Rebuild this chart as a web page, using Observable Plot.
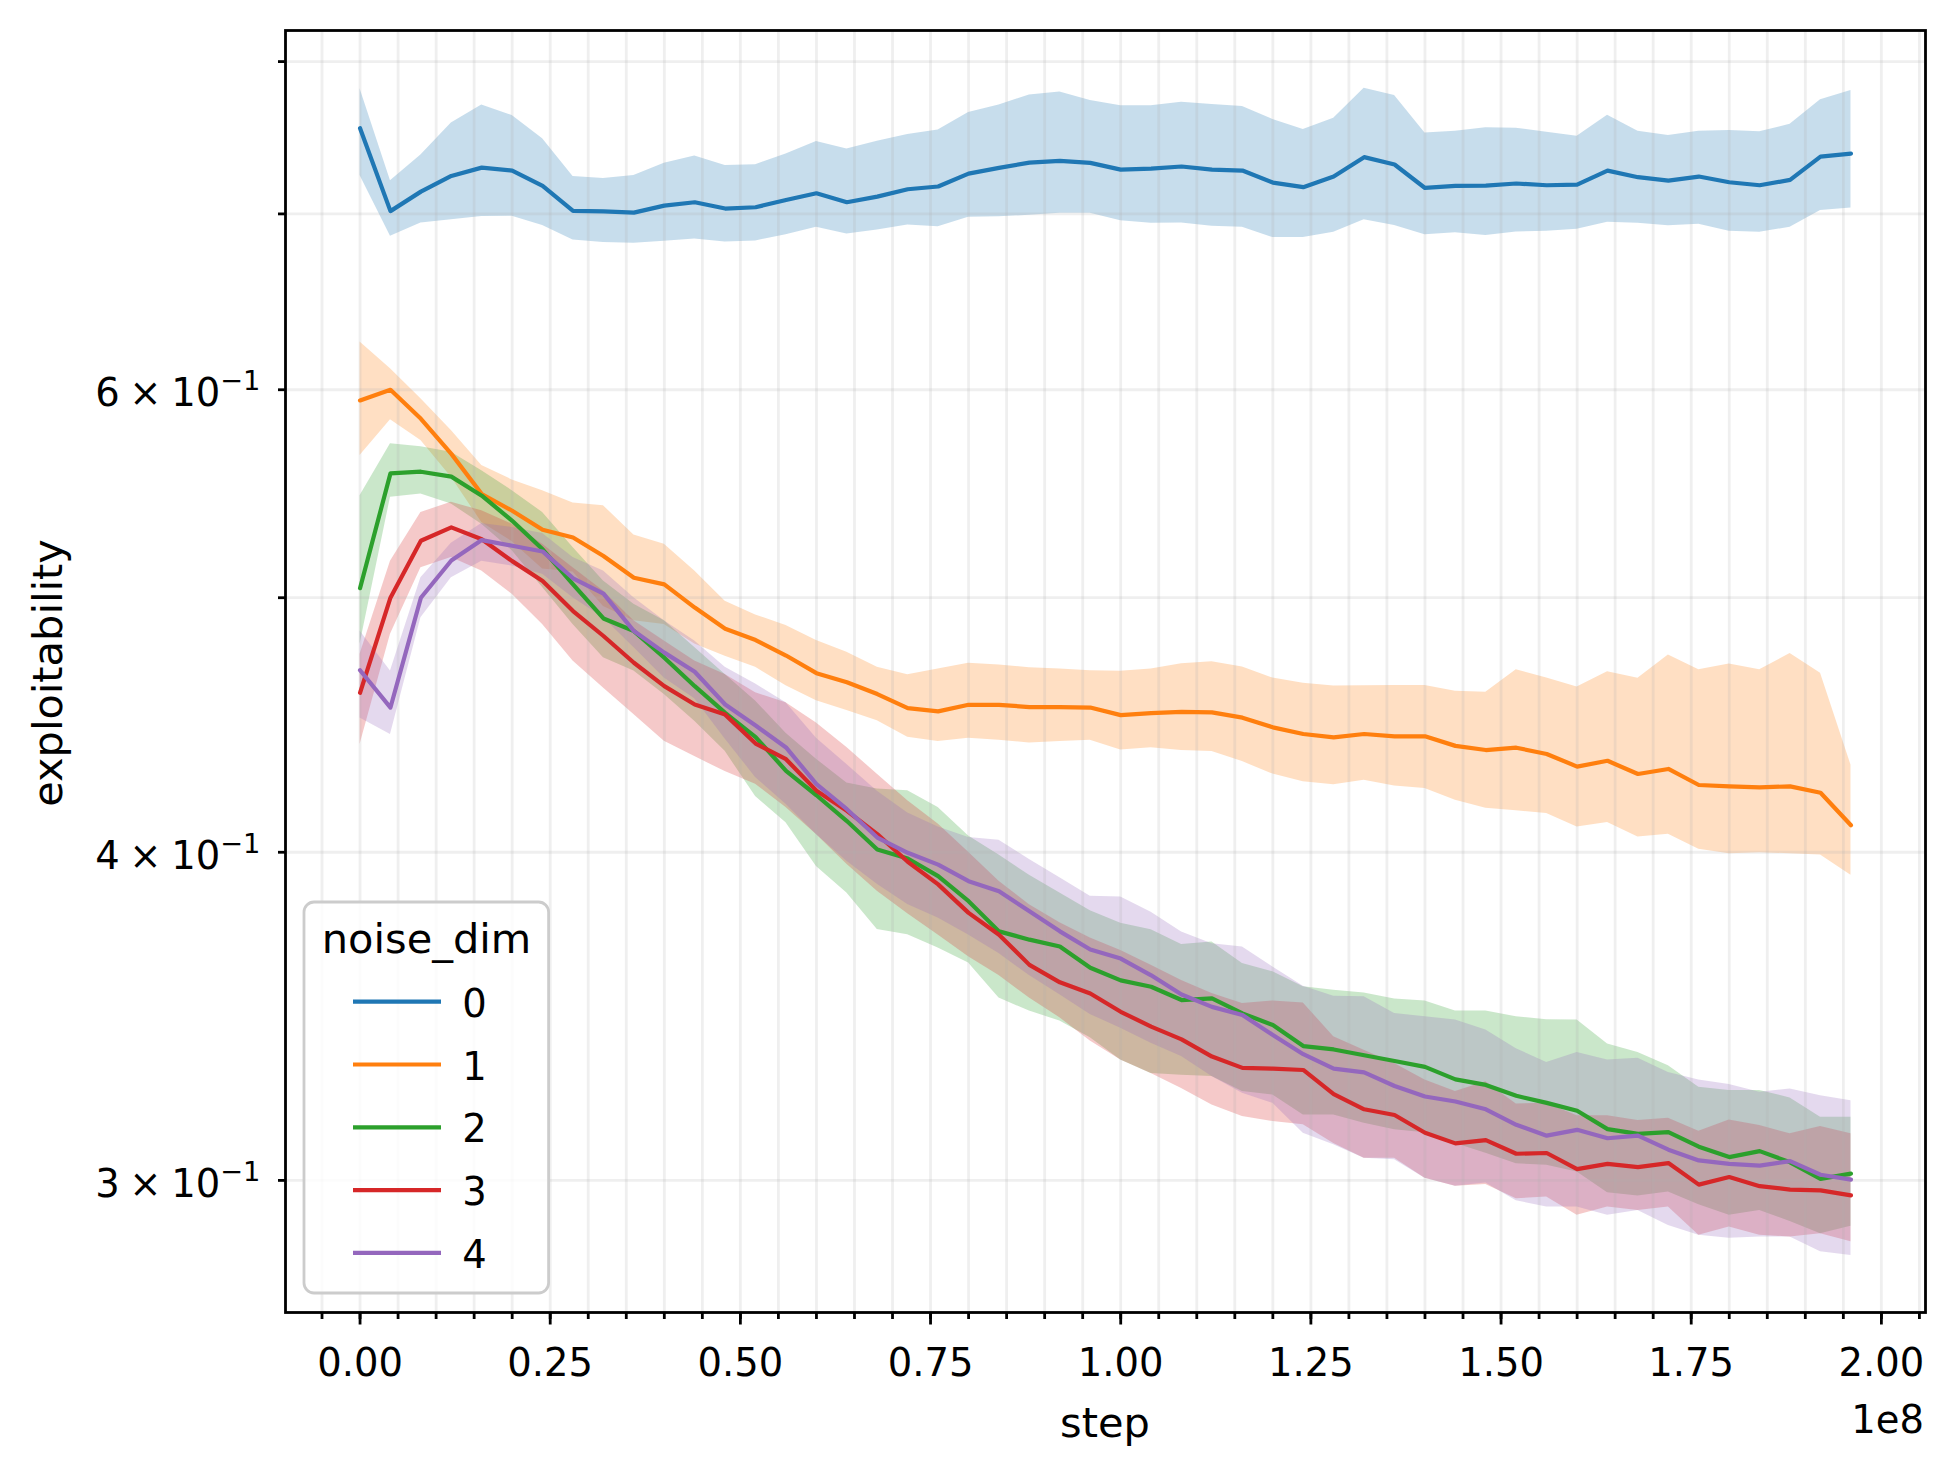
<!DOCTYPE html>
<html>
<head>
<meta charset="utf-8">
<script src="https://cdn.jsdelivr.net/npm/d3@7"></script>
<script src="https://cdn.jsdelivr.net/npm/@observablehq/plot@0.6"></script>
<style>
html, body { margin: 0; padding: 0; background: #fff; }
svg { display: block; }
</style>
</head>
<body>
<div id="chart"></div>
<script>
// ---------- data ----------
const steps = [0,4e6,8e6,12e6,16e6,20e6,24e6,28e6,32e6,36e6,
  40e6,44e6,48e6,52e6,56e6,60e6,64e6,68e6,72e6,76e6,
  80e6,84e6,88e6,92e6,96e6,100e6,104e6,108e6,112e6,116e6,
  120e6,124e6,128e6,132e6,136e6,140e6,144e6,148e6,152e6,156e6,
  160e6,164e6,168e6,172e6,176e6,180e6,184e6,188e6,192e6,196e6];

const seriesNames = ["0","1","2","3","4"];
const seriesColors = ["#1f77b4","#ff7f0e","#2ca02c","#d62728","#9467bd"];

const mean0 = [.7546,.7017,.7138,.7237,.7290,.7271,.7174,.7019,.7015,.7008,
  .7051,.7072,.7033,.7041,.7086,.7128,.7072,.7107,.7153,.7170,
  .7252,.7288,.7322,.7333,.7320,.7277,.7284,.7297,.7277,.7271,
  .7195,.7166,.7233,.7357,.7310,.7161,.7174,.7176,.7189,.7178,
  .7182,.7271,.7229,.7207,.7233,.7197,.7178,.7212,.7361,.7380];
const hi0 = [.7811,.7207,.7371,.7581,.7702,.7630,.7476,.7233,.7220,.7239,
  .7318,.7365,.7303,.7308,.7378,.7458,.7410,.7460,.7504,.7535,
  .7650,.7702,.7769,.7790,.7731,.7697,.7697,.7720,.7704,.7691,
  .7604,.7537,.7613,.7815,.7765,.7515,.7526,.7550,.7546,.7519,
  .7493,.7632,.7526,.7498,.7526,.7531,.7522,.7572,.7736,.7799];
const lo0 = [.7239,.6864,.6945,.6964,.6984,.6986,.6929,.6842,.6826,.6822,
  .6834,.6848,.6830,.6836,.6874,.6918,.6878,.6902,.6933,.6922,
  .6980,.6982,.6992,.7004,.7004,.6958,.6943,.6945,.6924,.6918,
  .6856,.6856,.6889,.6964,.6929,.6874,.6885,.6868,.6890,.6894,
  .6907,.6949,.6943,.6927,.6937,.6894,.6889,.6918,.7021,.7037];

const mean1 = [.5944,.6000,.5849,.5672,.5476,.5396,.5307,.5271,.5186,.5088,
  .5059,.4957,.4866,.4818,.4753,.4680,.4643,.4595,.4539,.4526,
  .4552,.4552,.4543,.4543,.4541,.4511,.4519,.4524,.4522,.4501,
  .4463,.4437,.4424,.4437,.4428,.4428,.4391,.4375,.4384,.4360,
  .4312,.4334,.4284,.4303,.4243,.4238,.4234,.4238,.4214,.4096];
const hi1 = [.6257,.6112,.5953,.5789,.5614,.5544,.5492,.5433,.5420,.5283,
  .5240,.5118,.4985,.4925,.4880,.4816,.4767,.4704,.4674,.4697,
  .4721,.4714,.4702,.4697,.4690,.4688,.4697,.4719,.4727,.4705,
  .4660,.4639,.4628,.4629,.4630,.4630,.4606,.4602,.4694,.4660,
  .4624,.4686,.4659,.4755,.4694,.4718,.4694,.4761,.4680,.4318];
const lo1 = [.5664,.5844,.5739,.5557,.5341,.5252,.5128,.5114,.4962,.4900,
  .4884,.4801,.4750,.4704,.4629,.4568,.4529,.4489,.4424,.4408,
  .4420,.4413,.4402,.4408,.4413,.4375,.4384,.4373,.4369,.4331,
  .4284,.4255,.4244,.4261,.4239,.4230,.4187,.4157,.4148,.4138,
  .4090,.4106,.4054,.4064,.4011,.3995,.3998,.3995,.3990,.3920];

const mean2 = [.5042,.5576,.5584,.5560,.5468,.5349,.5217,.5059,.4910,.4856,
  .4744,.4627,.4520,.4425,.4296,.4205,.4111,.4010,.3978,.3917,
  .3832,.3732,.3705,.3683,.3615,.3575,.3555,.3514,.3519,.3473,
  .3438,.3375,.3365,.3348,.3331,.3314,.3278,.3262,.3231,.3211,
  .3189,.3138,.3125,.3130,.3090,.3062,.3078,.3048,.3004,.3018];
const hi2 = [.5468,.5722,.5708,.5680,.5589,.5492,.5388,.5225,.5074,.4972,
  .4900,.4786,.4675,.4567,.4440,.4340,.4250,.4228,.4222,.4160,
  .4057,.3990,.3920,.3860,.3800,.3759,.3737,.3689,.3697,.3628,
  .3602,.3555,.3544,.3536,.3517,.3511,.3480,.3480,.3463,.3454,
  .3453,.3381,.3356,.3317,.3255,.3246,.3246,.3225,.3171,.3171];
const lo2 = [.4800,.5460,.5476,.5428,.5333,.5210,.5045,.4884,.4744,.4689,
  .4593,.4487,.4370,.4200,.4105,.3950,.3860,.3738,.3721,.3678,
  .3630,.3520,.3480,.3450,.3400,.3334,.3295,.3290,.3286,.3243,
  .3233,.3177,.3177,.3154,.3136,.3128,.3099,.3072,.3044,.3040,
  .3022,.2968,.2959,.2970,.2937,.2910,.2922,.2894,.2863,.2882];

const mean3 = [.4600,.5000,.5256,.5318,.5263,.5163,.5074,.4942,.4835,.4723,
  .4627,.4553,.4513,.4400,.4340,.4222,.4148,.4064,.3967,.3889,
  .3793,.3721,.3624,.3569,.3534,.3478,.3433,.3395,.3344,.3311,
  .3309,.3305,.3236,.3193,.3177,.3128,.3099,.3108,.3071,.3073,
  .3030,.3044,.3035,.3046,.2989,.3009,.2985,.2976,.2974,.2961];
const hi3 = [.4758,.5163,.5388,.5436,.5396,.5333,.5240,.5133,.5030,.4900,
  .4814,.4730,.4675,.4600,.4560,.4480,.4385,.4283,.4185,.4100,
  .4000,.3900,.3820,.3760,.3710,.3670,.3623,.3575,.3534,.3503,
  .3511,.3505,.3403,.3363,.3324,.3276,.3243,.3271,.3208,.3210,
  .3175,.3175,.3162,.3168,.3132,.3163,.3148,.3125,.3145,.3125];
const lo3 = [.4396,.4842,.5133,.5179,.5118,.5015,.4884,.4730,.4620,.4513,
  .4409,.4350,.4293,.4246,.4160,.4063,.3958,.3866,.3790,.3720,
  .3650,.3590,.3520,.3460,.3390,.3334,.3295,.3252,.3205,.3173,
  .3159,.3150,.3099,.3059,.3059,.3006,.2985,.2989,.2952,.2957,
  .2910,.2931,.2922,.2931,.2859,.2880,.2859,.2855,.2863,.2843];

const mean4 = [.4692,.4541,.5000,.5166,.5259,.5233,.5207,.5086,.5018,.4856,
  .4765,.4686,.4553,.4470,.4385,.4246,.4154,.4052,.3998,.3957,
  .3900,.3866,.3798,.3732,.3673,.3644,.3591,.3531,.3493,.3468,
  .3408,.3351,.3309,.3298,.3259,.3229,.3215,.3193,.3150,.3120,
  .3136,.3113,.3120,.3082,.3053,.3044,.3039,.3051,.3015,.3002];
const hi4 = [.4856,.4689,.5088,.5244,.5336,.5318,.5290,.5179,.5118,.5000,
  .4900,.4814,.4704,.4636,.4560,.4420,.4320,.4220,.4140,.4090,
  .4052,.4042,.3975,.3912,.3849,.3846,.3795,.3730,.3692,.3681,
  .3617,.3557,.3526,.3524,.3473,.3463,.3453,.3423,.3367,.3327,
  .3356,.3334,.3339,.3298,.3276,.3263,.3241,.3250,.3231,.3217];
const lo4 = [.4500,.4435,.4913,.5088,.5163,.5141,.5104,.5000,.4913,.4786,
  .4660,.4576,.4418,.4271,.4172,.4063,.3969,.3889,.3821,.3776,
  .3720,.3660,.3590,.3530,.3470,.3428,.3383,.3344,.3286,.3238,
  .3210,.3127,.3095,.3059,.3055,.3006,.2985,.2993,.2947,.2931,
  .2931,.2910,.2922,.2884,.2859,.2852,.2855,.2855,.2818,.2809];

// ticks
const xMajorTicks = [0, 25e6, 50e6, 75e6, 100e6, 125e6, 150e6, 175e6, 200e6];
const xMinorTicks = [-5e6,0,5e6,10e6,15e6,20e6,25e6,30e6,35e6,40e6,45e6,50e6,55e6,60e6,65e6,70e6,75e6,
  80e6,85e6,90e6,95e6,100e6,105e6,110e6,115e6,120e6,125e6,130e6,135e6,140e6,145e6,150e6,155e6,
  160e6,165e6,170e6,175e6,180e6,185e6,190e6,195e6,200e6,205e6];
const yTicks = [0.3, 0.4, 0.5, 0.6, 0.7, 0.8];
const yLabelTicks = [0.3, 0.4, 0.6];
const xLabel = "step";
const yLabel = "exploitability";
const offsetText = "1e8";
const legendTitle = "noise_dim";

// ---------- build table ----------
const means = [mean0, mean1, mean2, mean3, mean4];
const los = [lo0, lo1, lo2, lo3, lo4];
const his = [hi0, hi1, hi2, hi3, hi4];
const rows = [];
seriesNames.forEach((s, k) => steps.forEach((x, i) => rows.push({
  series: s, step: x, mean: means[k][i], lo: los[k][i], hi: his[k][i]
})));

const W = 1954, H = 1474, mL = 285, mR = 29, mT = 30, mB = 162;
const gridStyle = {stroke: "#b0b0b0", strokeOpacity: 0.2, strokeWidth: 2.8};
const marks = [];
seriesNames.forEach((s, k) => marks.push(Plot.areaY(rows.filter(r => r.series === s), {
  x: "step", y1: "lo", y2: "hi", fill: seriesColors[k], fillOpacity: 0.25
})));
marks.push(Plot.gridX(xMinorTicks, gridStyle));
marks.push(Plot.gridY(yTicks, gridStyle));
seriesNames.forEach((s, k) => marks.push(Plot.line(rows.filter(r => r.series === s), {
  x: "step", y: "mean", stroke: seriesColors[k], strokeWidth: 4.2
})));
marks.push(Plot.axisX(xMinorTicks, {tickSize: 7, fill: "none", stroke: "black", strokeWidth: 2.8, label: null}));
marks.push(Plot.axisX(xMajorTicks, {tickSize: 12.5, tickPadding: 24, stroke: "black", strokeWidth: 2.8,
  fill: "black", fontSize: 38.5, label: null, tickFormat: d => (d / 1e8).toFixed(2)}));
marks.push(Plot.axisY(yTicks, {tickSize: 7, fill: "none", stroke: "black", strokeWidth: 2.8, label: null}));
marks.push(Plot.axisY(yLabelTicks, {tickSize: 7, stroke: "none", tickPadding: 18, fill: "black",
  fontSize: 38.5, dy: 4.4, label: null,
  tickFormat: d => `${Math.round(d * 10)}\u2005×\u200510⁻¹`}));
marks.push(Plot.frame({stroke: "black", strokeWidth: 2.8}));

const chart = Plot.plot({
  width: W, height: H,
  marginLeft: mL, marginRight: mR, marginTop: mT, marginBottom: mB,
  style: {fontFamily: "DejaVu Sans", background: "white", color: "black", overflow: "visible"},
  x: {domain: [-9.8e6, 2.058e8]},
  y: {type: "log", domain: [0.2672, 0.8221]},
  marks
});
document.getElementById("chart").appendChild(chart);

// ---------- mathtext-like y tick labels ----------
const svg = d3.select(chart);
svg.selectAll('g[aria-label="y-axis tick label"] text').each(function() {
  const t = this.textContent;
  const m = t.match(/^(\d+)/);
  if (!m) return;
  const el = d3.select(this);
  el.text(null);
  el.append("tspan").text(`${m[1]}\u2005×\u200510`);
  el.append("tspan").attr("font-size", 27.3).attr("dy", -16).text("\u22121");
});

// ---------- axis labels ----------
const font = "DejaVu Sans";
svg.append("text").attr("x", 1105).attr("y", 1437).attr("text-anchor", "middle")
  .attr("font-family", font).attr("font-size", 41.5).attr("fill", "black").text(xLabel);
svg.append("text").attr("x", 1924).attr("y", 1433).attr("text-anchor", "end")
  .attr("font-family", font).attr("font-size", 38.5).attr("fill", "black").text(offsetText);
svg.append("text").attr("transform", "translate(62,673) rotate(-90)").attr("text-anchor", "middle")
  .attr("font-family", font).attr("font-size", 41.5).attr("fill", "black").text(yLabel);

// ---------- legend ----------
const lg = svg.append("g").attr("aria-label", "legend");
lg.append("rect").attr("x", 304).attr("y", 902).attr("width", 244.6).attr("height", 391)
  .attr("rx", 10).attr("ry", 10).attr("fill", "white").attr("fill-opacity", 0.8)
  .attr("stroke", "#cccccc").attr("stroke-width", 2.8);
lg.append("text").attr("x", 426.5).attr("y", 953).attr("text-anchor", "middle")
  .attr("font-family", font).attr("font-size", 41.5).attr("fill", "black").text(legendTitle);
seriesNames.forEach((s, k) => {
  const ly = 1001.7 + 62.8 * k;
  lg.append("line").attr("x1", 353).attr("x2", 441).attr("y1", ly).attr("y2", ly)
    .attr("stroke", seriesColors[k]).attr("stroke-width", 4.2);
  lg.append("text").attr("x", 474.5).attr("y", ly + 15).attr("font-family", font)
    .attr("font-size", 38.5).attr("fill", "black").text(s);
});
</script>
</body>
</html>
